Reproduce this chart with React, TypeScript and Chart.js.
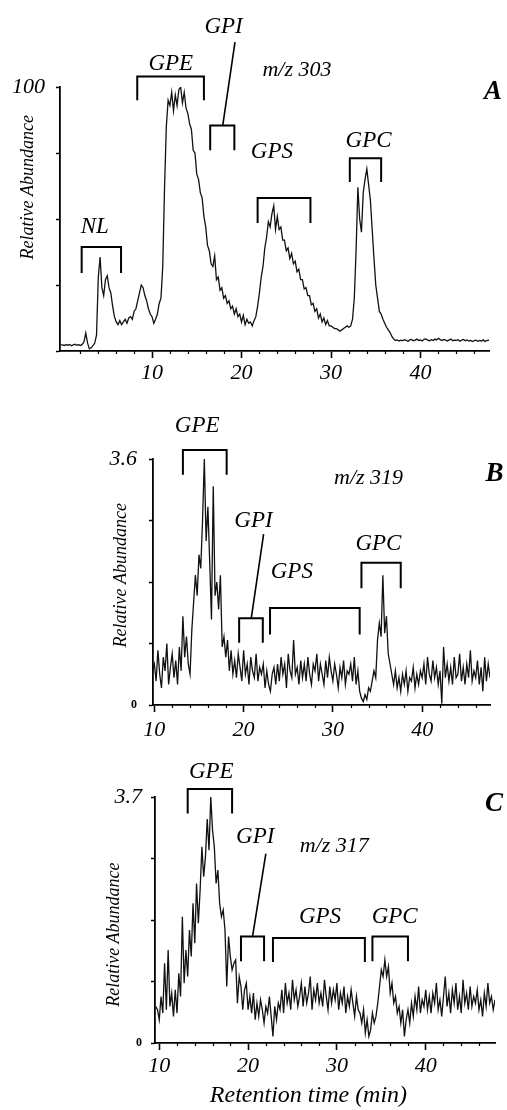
import React, { useEffect, useRef } from 'react';
import { Chart, registerables } from 'chart.js';

Chart.register(...registerables);

const SERIF = '"Liberation Serif", "Times New Roman", Times, serif';
const FONTS: Record<string, string> = {
  tag: `italic 23px ${SERIF}`,
  mz: `italic 22px ${SERIF}`,
  panel: `italic bold 27px ${SERIF}`,
  yTitle: `italic 18px ${SERIF}`,
  xTitle: `italic 24px ${SERIF}`,
};

// ---------------- Panel A : m/z 303 (0.2 min sampling, starts at -0.2 min) ----------------
const A_T0 = -0.2;
const A_DT = 0.2;
const A_VALUES = [
  2.3,
  2.3, 2.1, 2.4, 2.2, 2.5, 2.0, 2.3, 2.6, 2.2, 2.4,
  2.1, 2.5, 3.5, 6.8, 3.0, 0.8, 1.2, 2.0, 3.0, 6.0,
  28, 35.6, 24, 21, 27, 28.5, 24, 22, 17, 13,
  11, 10, 11.5, 10, 11, 12, 10.5, 12.5, 13, 12,
  15, 16, 19, 22, 25, 24, 21, 19, 16, 14,
  13, 10.5, 12, 14, 18, 20, 32, 62, 85, 95,
  93, 98, 91, 97, 93, 99, 100, 94, 98, 92,
  90, 86, 84, 76, 75, 67, 65, 60, 58, 51,
  47, 40, 38, 33, 32, 36, 27, 28, 23, 24,
  20, 21, 18, 19, 16, 17, 14, 16, 13, 14,
  11, 13.5, 10, 12, 10.5, 11, 9.5, 11.5, 13, 17,
  22, 28, 32, 39, 43, 49, 47, 52, 55, 46,
  51, 46, 47, 42, 42, 38, 39, 35, 37, 33,
  34, 30, 31, 27, 27, 23.5, 24, 21, 21, 17.5,
  18, 15, 16, 12.5, 14, 11, 12.5, 10, 11.5, 9.5,
  9.5, 9, 8.5, 8.5, 8, 7.5, 8, 8.5, 9, 9.5,
  9, 9.5, 12, 20, 38, 62, 50, 45, 60, 65,
  69, 63, 57, 46, 35, 25, 20, 15, 14, 12,
  10.5, 9, 8, 7, 5.5, 4.5, 4, 4.2, 3.8, 4.1,
  3.9, 4.3, 4.0, 3.7, 4.2, 4.4, 3.9, 4.1, 4.5, 4.0,
  4.2, 3.8, 4.4, 4.6, 4.1, 3.9, 4.3, 4.0, 4.5, 4.2,
  4.8, 4.3, 4.0, 4.4, 4.1, 3.8, 4.2, 4.5, 3.9, 4.1,
  4.0, 4.3, 3.7, 4.1, 4.4, 3.9, 4.2, 3.8, 4.0, 3.6,
  3.9, 4.1, 3.7, 4.0, 3.8, 4.2, 3.6, 3.9, 4.1, 3.8,
];
const A_X_TICKS = [10, 20, 30, 40];
const A_X_LABELS = ['10', '20', '30', '40'];
const A_MINOR = [2, 4, 6, 8, 12, 14, 16, 18, 22, 24, 26, 28, 32, 34, 36, 38, 42, 44, 46];
const A_Y_TICKS = [0, 25, 50, 75, 100];
const A_Y_LABELS = ['', '', '', '', '100'];

// ---------------- Panel B : m/z 319 ----------------
const B_T0 = 9.8;
const B_DT = 0.2;
const B_VALUES = [
  0.5,
  0.6, 0.35, 0.8, 0.45, 0.25, 0.7, 0.5, 0.9, 0.3, 0.55,
  0.75, 0.4, 0.65, 0.3, 0.85, 0.5, 1.3, 0.7, 1.0, 0.6,
  0.45, 1.1, 1.5, 1.9, 1.6, 2.2, 2.0, 2.7, 3.6, 2.4,
  2.9, 2.1, 1.25, 3.2, 1.6, 1.8, 1.4, 1.9, 0.85, 1.0,
  0.7, 0.95, 0.5, 0.8, 0.45, 0.65, 0.4, 0.75, 0.55, 0.35,
  0.8, 0.45, 0.6, 0.3, 0.7, 0.5, 0.4, 0.75, 0.35, 0.55,
  0.45, 0.6, 0.25, 0.5, 0.3, 0.2, 0.45, 0.55, 0.3, 0.6,
  0.35, 0.7, 0.45, 0.6, 0.25, 0.75, 0.5, 0.4, 0.95, 0.45,
  0.55, 0.3, 0.65, 0.4, 0.6, 0.35, 0.7, 0.45, 0.3, 0.6,
  0.5, 0.75, 0.35, 0.6, 0.45, 0.3, 0.65, 0.4, 0.7, 0.5,
  0.35, 0.6, 0.45, 0.25, 0.55, 0.4, 0.65, 0.3, 0.5, 0.45,
  0.6, 0.35, 0.7, 0.3, 0.5, 0.2, 0.1, 0.05, 0.15, 0.08,
  0.25, 0.2, 0.35, 0.5, 0.4, 0.95, 1.2, 1.0, 1.9, 1.05,
  1.3, 0.75, 0.6, 0.45, 0.3, 0.5, 0.25, 0.4, 0.2, 0.45,
  0.3, 0.5, 0.2, 0.4, 0.35, 0.55, 0.25, 0.45, 0.3, 0.5,
  0.4, 0.6, 0.3, 0.7, 0.45, 0.35, 0.65, 0.4, 0.55, 0.3,
  0.5, 0.02, 0.85, 0.4, 0.6, 0.35, 0.55, 0.3, 0.7, 0.4,
  0.45, 0.75, 0.35, 0.55, 0.3, 0.6, 0.4, 0.8, 0.35, 0.5,
  0.4, 0.65, 0.3, 0.55, 0.2, 0.7, 0.35, 0.6, 0.4,
];
const B_X_TICKS = [10, 20, 30, 40];
const B_X_LABELS = ['10', '20', '30', '40'];
const B_MINOR = [12, 14, 16, 18, 22, 24, 26, 28, 32, 34, 36, 38, 42, 44, 46];
const B_Y_TICKS = [0, 0.9, 1.8, 2.7, 3.6];
const B_Y_LABELS = ['0', '', '', '', '3.6'];

// ---------------- Panel C : m/z 317 ----------------
const C_T0 = 9.6;
const C_DT = 0.2;
const C_VALUES = [
  0.55,
  0.5, 0.35, 0.7, 0.45, 1.2, 0.5, 1.4, 0.55, 0.75, 0.4,
  0.8, 0.45, 1.05, 0.7, 1.9, 0.9, 1.4, 1.0, 1.7, 1.3,
  2.1, 1.5, 2.4, 1.8, 2.3, 2.95, 2.5, 2.8, 3.37, 2.9,
  3.7, 3.2, 2.95, 2.4, 2.6, 2.1, 1.9, 2.0, 1.7, 0.85,
  1.6, 1.3, 1.1, 1.2, 1.25, 0.6, 1.0, 0.85, 0.5, 0.8,
  0.9, 0.5, 0.7, 0.45, 0.75, 0.35, 0.6, 0.4, 0.65, 0.5,
  0.3, 0.55, 0.45, 0.7, 0.4, 0.1, 0.55, 0.35, 0.6, 0.5,
  0.8, 0.45, 0.9, 0.6, 0.75, 0.5, 0.95, 0.65, 0.8, 0.55,
  0.7, 0.9, 0.55, 0.85, 0.6, 0.75, 1.0, 0.5, 0.8, 0.65,
  0.9, 0.6, 0.75, 0.55, 0.95, 0.7, 0.5, 0.85, 0.6, 0.8,
  0.65, 0.9, 0.5, 0.75, 0.6, 0.85, 0.45, 0.7, 0.55, 0.8,
  0.6, 0.4, 0.7, 0.5, 0.45, 0.3, 0.5, 0.15, 0.35, 0.1,
  0.2, 0.45, 0.3, 0.4, 0.6, 0.85, 1.1, 1.0, 1.25, 1.0,
  1.15, 0.75, 0.9, 0.6, 0.7, 0.45, 0.55, 0.3, 0.5, 0.1,
  0.35, 0.5, 0.3, 0.6, 0.4, 0.7, 0.5, 0.85, 0.45, 0.65,
  0.55, 0.8, 0.5, 0.7, 0.45, 0.75, 0.6, 0.9, 0.5, 0.65,
  0.4, 0.7, 1.0, 0.55, 0.75, 0.45, 0.8, 0.6, 0.9, 0.5,
  0.7, 0.45, 0.95, 0.6, 0.75, 0.5, 0.85, 0.55, 0.7, 0.6,
  0.8, 0.5, 0.65, 0.4, 0.75, 0.55, 0.9, 0.6, 0.7, 0.5,
  0.65,
];
const C_X_TICKS = [10, 20, 30, 40];
const C_X_LABELS = ['10', '20', '30', '40'];
const C_MINOR = [12, 14, 16, 18, 22, 24, 26, 28, 32, 34, 36, 38, 42, 44, 46];
const C_Y_TICKS = [0, 0.925, 1.85, 2.775, 3.7];
const C_Y_LABELS = ['0', '', '', '', '3.7'];

// ---------------- Annotations (data coordinates: minutes / abundance) ----------------
const A_BRACKETS = [
  { from: 2.14, to: 6.54, top: 39.4, bottom: 29.5 }, // NL
  { from: 8.35, to: 15.8, top: 104, bottom: 95 }, // GPE
  { from: 16.5, to: 19.2, top: 85.4, bottom: 76 }, // GPI
  { from: 21.8, to: 27.7, top: 58, bottom: 48.5 }, // GPS
  { from: 32.1, to: 35.6, top: 73, bottom: 64 }, // GPC
];
const A_POINTERS = [{ x0: 17.9, y0: 85.4, x1: 19.27, y1: 117 }];
const A_NOTES = [
  { text: 'NL', x: 3.6, y: 44.7, kind: 'tag' },
  { text: 'GPE', x: 12.1, y: 106.4, kind: 'tag' },
  { text: 'GPI', x: 18.0, y: 120.5, kind: 'tag' },
  { text: 'm/z 303', x: 26.2, y: 104.2, kind: 'mz' },
  { text: 'GPS', x: 23.4, y: 73.1, kind: 'tag' },
  { text: 'GPC', x: 34.2, y: 77.3, kind: 'tag' },
  { text: 'A', x: 48.1, y: 95.5, kind: 'panel' },
  { text: 'Relative Abundance', x: -3.85, y: 62, kind: 'yTitle' },
];

const B_BRACKETS = [
  { from: 13.2, to: 18.1, top: 3.73, bottom: 3.37 }, // GPE
  { from: 19.5, to: 22.15, top: 1.27, bottom: 0.91 }, // GPI
  { from: 22.96, to: 33.0, top: 1.42, bottom: 1.03 }, // GPS
  { from: 33.2, to: 37.6, top: 2.08, bottom: 1.71 }, // GPC
];
const B_POINTERS = [{ x0: 20.86, y0: 1.27, x1: 22.24, y1: 2.5 }];
const B_NOTES = [
  { text: 'GPE', x: 14.8, y: 4.0, kind: 'tag' },
  { text: 'GPI', x: 21.1, y: 2.61, kind: 'tag' },
  { text: 'GPS', x: 25.4, y: 1.86, kind: 'tag' },
  { text: 'GPC', x: 35.1, y: 2.27, kind: 'tag' },
  { text: 'm/z 319', x: 34.0, y: 3.24, kind: 'mz' },
  { text: 'B', x: 48.1, y: 3.28, kind: 'panel' },
  { text: 'Relative Abundance', x: 6.3, y: 1.9, kind: 'yTitle' },
];

const C_BRACKETS = [
  { from: 13.2, to: 18.2, top: 3.82, bottom: 3.45 }, // GPE
  { from: 19.2, to: 21.8, top: 1.6, bottom: 1.23 }, // GPI
  { from: 22.8, to: 33.15, top: 1.58, bottom: 1.22 }, // GPS
  { from: 34.0, to: 38.0, top: 1.6, bottom: 1.23 }, // GPC
];
const C_POINTERS = [{ x0: 20.5, y0: 1.6, x1: 22.0, y1: 2.85 }];
const C_NOTES = [
  { text: 'GPE', x: 15.86, y: 3.98, kind: 'tag' },
  { text: 'GPI', x: 20.8, y: 3.01, kind: 'tag' },
  { text: 'm/z 317', x: 29.7, y: 2.87, kind: 'mz' },
  { text: 'GPS', x: 28.1, y: 1.81, kind: 'tag' },
  { text: 'GPC', x: 36.5, y: 1.81, kind: 'tag' },
  { text: 'C', x: 47.7, y: 3.49, kind: 'panel' },
  { text: 'Relative Abundance', x: 4.9, y: 1.63, kind: 'yTitle' },
  { text: 'Retention time (min)', x: 26.8, y: -0.88, kind: 'xTitle' },
];

type Spec = {
  top: number;
  height: number;
  t0: number;
  dt: number;
  values: number[];
  xMin: number;
  xMax: number;
  yMax: number;
  xTicks: number[];
  xLabels: string[];
  minor: number[];
  yTicks: number[];
  yLabels: string[];
  brackets: { from: number; to: number; top: number; bottom: number }[];
  pointers: { x0: number; y0: number; x1: number; y1: number }[];
  notes: { text: string; x: number; y: number; kind: string }[];
  padding: { top: number; right: number; left: number; bottom: number };
  yAxisWidth: number;
  xAxisHeight: number;
  xLabelPad: number;
  yLabelPad: number;
};

const PANELS: Spec[] = [
  {
    top: 0, height: 385, t0: A_T0, dt: A_DT, values: A_VALUES,
    xMin: -0.28, xMax: 47.65, yMax: 100,
    xTicks: A_X_TICKS, xLabels: A_X_LABELS, minor: A_MINOR,
    yTicks: A_Y_TICKS, yLabels: A_Y_LABELS,
    brackets: A_BRACKETS, pointers: A_POINTERS, notes: A_NOTES,
    padding: { top: 87, right: 18, left: 0, bottom: 0 },
    yAxisWidth: 60, xAxisHeight: 34, xLabelPad: 2, yLabelPad: 11,
  },
  {
    top: 385, height: 365, t0: B_T0, dt: B_DT, values: B_VALUES,
    xMin: 9.85, xMax: 47.6, yMax: 3.6,
    xTicks: B_X_TICKS, xLabels: B_X_LABELS, minor: B_MINOR,
    yTicks: B_Y_TICKS, yLabels: B_Y_LABELS,
    brackets: B_BRACKETS, pointers: B_POINTERS, notes: B_NOTES,
    padding: { top: 74, right: 17, left: 0, bottom: 0 },
    yAxisWidth: 153, xAxisHeight: 45, xLabelPad: 5, yLabelPad: 12,
  },
  {
    top: 750, height: 360, t0: C_T0, dt: C_DT, values: C_VALUES,
    xMin: 9.52, xMax: 47.8, yMax: 3.7,
    xTicks: C_X_TICKS, xLabels: C_X_LABELS, minor: C_MINOR,
    yTicks: C_Y_TICKS, yLabels: C_Y_LABELS,
    brackets: C_BRACKETS, pointers: C_POINTERS, notes: C_NOTES,
    padding: { top: 47, right: 12, left: 0, bottom: 0 },
    yAxisWidth: 155, xAxisHeight: 67, xLabelPad: 3, yLabelPad: 9,
  },
];

function Panel({ spec }: { spec: Spec }) {
  const ref = useRef<HTMLCanvasElement>(null);

  useEffect(() => {
    const points = spec.values.map((v, i) => ({ x: Math.round((spec.t0 + i * spec.dt) * 100) / 100, y: v }));

    const annot = {
      id: 'annot',
      afterDraw(chart: any) {
        const { ctx, chartArea } = chart;
        const xs = chart.scales.x;
        const ys = chart.scales.y;
        ctx.save();
        ctx.strokeStyle = '#000';
        ctx.fillStyle = '#000';
        // minor ticks
        ctx.lineWidth = 1.2;
        for (const t of spec.minor) {
          const px = Math.round(xs.getPixelForValue(t)) + 0.5;
          ctx.beginPath();
          ctx.moveTo(px, chartArea.bottom);
          ctx.lineTo(px, chartArea.bottom + 3);
          ctx.stroke();
        }
        // brackets
        ctx.lineWidth = 2;
        ctx.lineJoin = 'miter';
        for (const b of spec.brackets) {
          const l = xs.getPixelForValue(b.from);
          const r = xs.getPixelForValue(b.to);
          const tp = ys.getPixelForValue(b.top);
          const bt = ys.getPixelForValue(b.bottom);
          ctx.beginPath();
          ctx.moveTo(l, bt);
          ctx.lineTo(l, tp);
          ctx.lineTo(r, tp);
          ctx.lineTo(r, bt);
          ctx.stroke();
        }
        ctx.lineWidth = 1.6;
        for (const p of spec.pointers) {
          ctx.beginPath();
          ctx.moveTo(xs.getPixelForValue(p.x0), ys.getPixelForValue(p.y0));
          ctx.lineTo(xs.getPixelForValue(p.x1), ys.getPixelForValue(p.y1));
          ctx.stroke();
        }
        // texts
        for (const n of spec.notes) {
          const px = xs.getPixelForValue(n.x);
          const py = ys.getPixelForValue(n.y);
          ctx.font = FONTS[n.kind];
          ctx.textAlign = 'center';
          ctx.save();
          ctx.translate(px, py);
          if (n.kind === 'yTitle') {
            ctx.rotate(-Math.PI / 2);
            ctx.textBaseline = 'middle';
          } else {
            ctx.textBaseline = 'alphabetic';
          }
          ctx.fillText(n.text, 0, 0);
          ctx.restore();
        }
        ctx.restore();
      },
    };

    const chart = new Chart(ref.current as HTMLCanvasElement, {
      type: 'line',
      data: {
        datasets: [
          {
            data: points,
            borderColor: '#111',
            borderWidth: 1.3,
            pointRadius: 0,
            tension: 0,
            fill: false,
          },
        ],
      },
      options: {
        animation: false,
        responsive: false,
        events: [],
        layout: { padding: spec.padding },
        plugins: { legend: { display: false }, tooltip: { enabled: false } },
        scales: {
          x: {
            type: 'linear',
            min: spec.xMin,
            max: spec.xMax,
            afterBuildTicks: (s: any) => {
              s.ticks = spec.xTicks.map((v) => ({ value: v }));
            },
            afterFit: (s: any) => {
              s.height = spec.xAxisHeight;
            },
            ticks: {
              autoSkip: false,
              maxRotation: 0,
              color: '#000',
              padding: spec.xLabelPad,
              font: { family: SERIF, size: 22, style: 'italic' },
              callback: (_v: any, i: number) => spec.xLabels[i],
            },
            grid: { drawOnChartArea: false, drawTicks: true, tickLength: 7, tickColor: '#000', tickWidth: 1.6 },
            border: { display: true, color: '#000', width: 1.8 },
          },
          y: {
            type: 'linear',
            min: 0,
            max: spec.yMax,
            afterBuildTicks: (s: any) => {
              s.ticks = spec.yTicks.map((v) => ({ value: v }));
            },
            afterFit: (s: any) => {
              s.width = spec.yAxisWidth;
            },
            ticks: {
              autoSkip: false,
              color: '#000',
              padding: spec.yLabelPad,
              font: (c: any) =>
                c.index === 0
                  ? { family: SERIF, size: 12, weight: 'bold' }
                  : { family: SERIF, size: 22, style: 'italic' },
              callback: (_v: any, i: number) => spec.yLabels[i],
            },
            grid: { drawOnChartArea: false, drawTicks: true, tickLength: 4, tickColor: '#000', tickWidth: 1.5 },
            border: { display: true, color: '#000', width: 1.8 },
          },
        },
      } as any,
      plugins: [annot],
    });
    return () => chart.destroy();
  }, [spec]);

  return (
    <canvas
      ref={ref}
      width={507}
      height={spec.height}
      style={{ position: 'absolute', left: 0, top: spec.top, width: 507, height: spec.height }}
    />
  );
}

export default function App() {
  return (
    <div style={{ position: 'absolute', left: 0, top: 0, width: 507, height: 1110, background: '#fff', overflow: 'hidden' }}>
      {PANELS.map((p, i) => (
        <Panel key={i} spec={p} />
      ))}
    </div>
  );
}
